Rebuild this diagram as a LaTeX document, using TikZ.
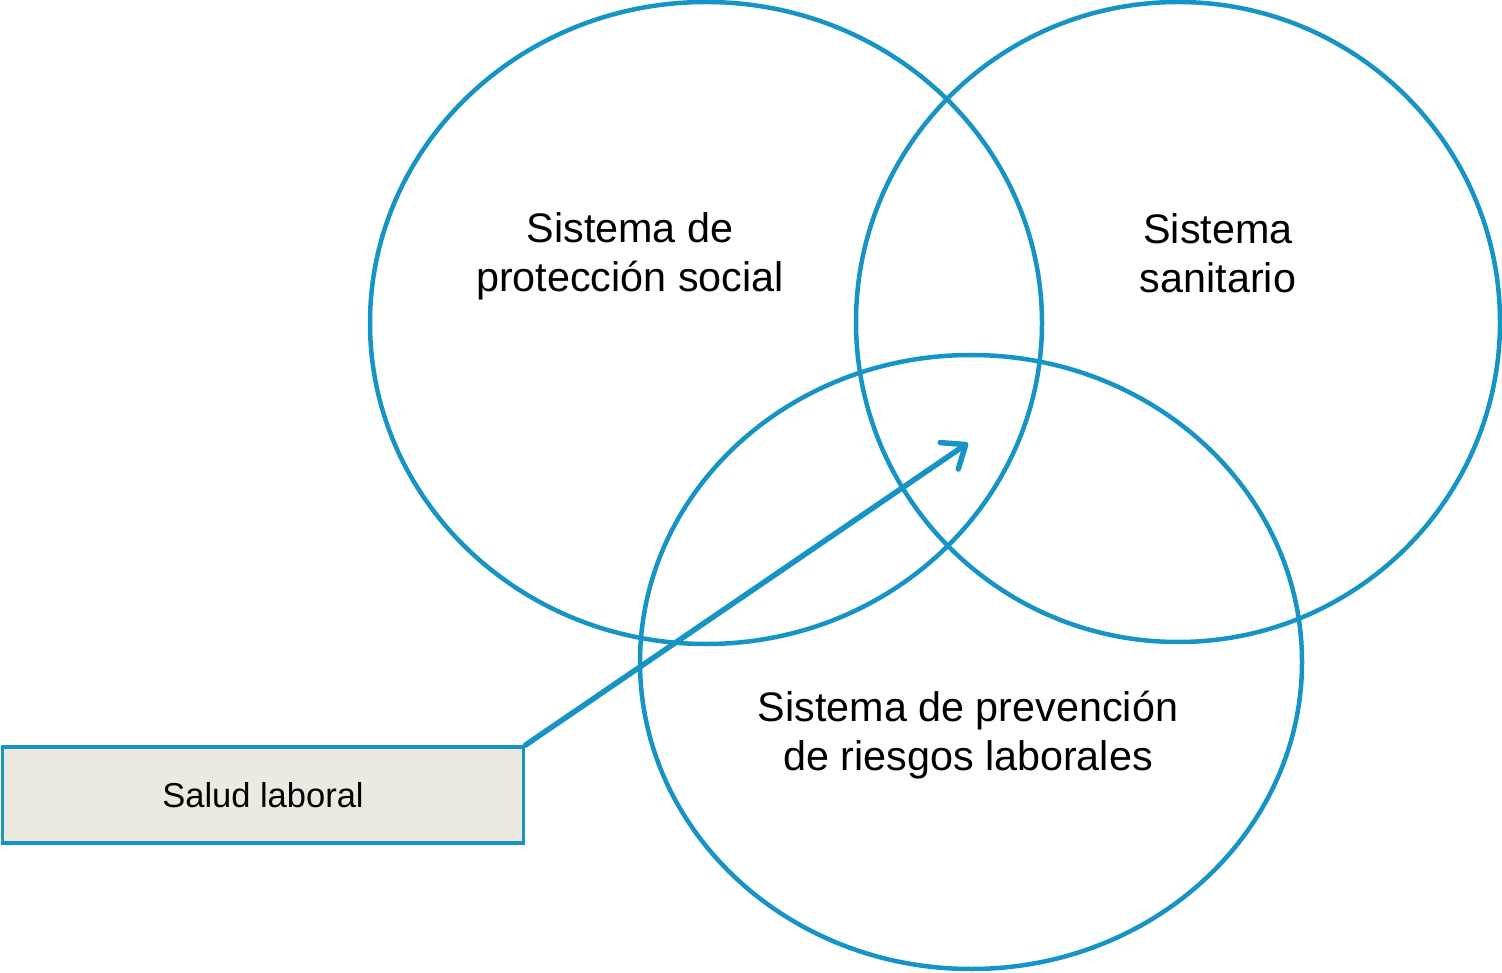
\documentclass[tikz,border=0pt]{standalone}
\usepackage{fontspec}
\setmainfont{Liberation Sans}
\usetikzlibrary{arrows.meta}
\definecolor{venn}{RGB}{22,148,197}
\definecolor{boxfill}{RGB}{236,233,224}
\tikzset{
  ring/.style={draw=venn, line width=4.5pt},
  label41/.style={align=center, inner sep=0pt, font=\fontsize{41.3}{49}\selectfont},
  saludbox/.style={draw=venn, line width=3.8pt, fill=boxfill, minimum width=521pt, minimum height=96pt, inner sep=0pt, font=\fontsize{34.5}{40}\selectfont},
  pointer/.style={draw=venn, line width=5.5pt, line cap=round, -{Straight Barb[length=20pt,width=32pt,line cap=round,line join=round]}}
}
\begin{document}
\begin{tikzpicture}[x=1pt,y=-1pt]
\useasboundingbox (0,0) rectangle (1502,973);
\draw[ring] (706,323) ellipse [x radius=336, y radius=321];
\draw[ring] (1178,322) ellipse [x radius=322, y radius=320];
\draw[ring] (971,662) ellipse [x radius=331, y radius=307];
\node[label41] (prot) at (630,256) {Sistema de\\protección social};
\node[label41] (sani) at (1218,253) {Sistema\\sanitario};
\node[label41] (prev) at (968,735) {Sistema de prevención\\de riesgos laborales};
\node[saludbox] (salud) at (263,795) {Salud laboral};
\coordinate (tip) at (968,443);
\draw[pointer] (salud.north east) -- (tip);
\end{tikzpicture}
\end{document}
